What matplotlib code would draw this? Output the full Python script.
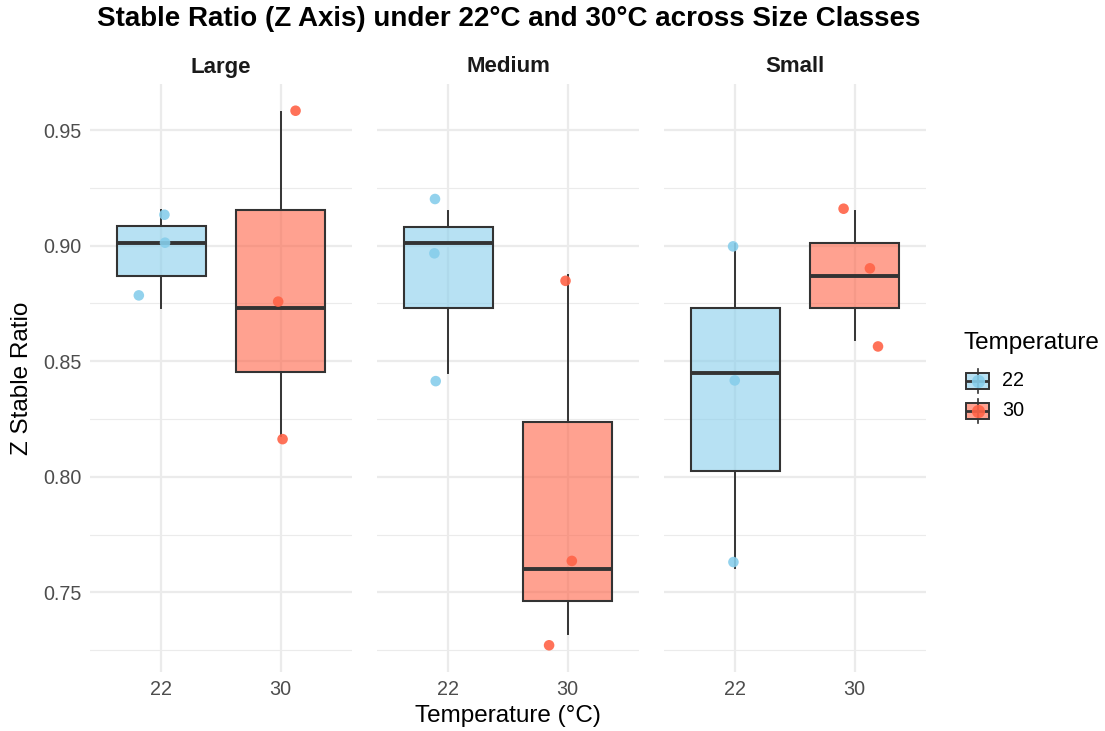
import glob
import matplotlib
matplotlib.use("Agg")
import matplotlib.pyplot as plt
import numpy as np
from matplotlib import font_manager
from matplotlib.patches import Rectangle

plt.rcParams["font.family"] = ["Liberation Sans", "DejaVu Sans"]


def find_font(name):
    hits = [p for p in font_manager.findSystemFonts() if p.endswith(name)]
    hits += glob.glob("/usr/share/fonts/**/" + name, recursive=True)
    return hits[0] if hits else None


_reg = find_font("LiberationSans-Regular.ttf")
_bold = find_font("LiberationSans-Bold.ttf")


def fp(size, bold=False):
    path = _bold if bold else _reg
    if path:
        return font_manager.FontProperties(fname=path, size=size)
    return font_manager.FontProperties(family="Liberation Sans", size=size,
                                       weight="bold" if bold else "normal")


# ---- data -------------------------------------------------------------
size_classes = ["Large", "Medium", "Small"]
temperatures = ["22", "30"]

# underlying measurements per size class / temperature (three replicates)
ratio_22 = {
    "Large": [0.8730, 0.9012, 0.9156],
    "Medium": [0.8449, 0.9012, 0.9152],
    "Small": [0.7605, 0.8449, 0.9009],
}
ratio_30 = {
    "Large": [0.8175, 0.8730, 0.9577],
    "Medium": [0.7319, 0.7602, 0.8872],
    "Small": [0.8593, 0.8871, 0.9149],
}

# jittered points as plotted (value, horizontal jitter in category units)
points_22 = {
    "Large": ([0.9134, 0.9013, 0.8785], [0.025, 0.030, -0.190]),
    "Medium": ([0.9202, 0.8967, 0.8414], [-0.113, -0.118, -0.107]),
    "Small": ([0.8997, 0.8417, 0.7631], [-0.020, -0.006, -0.017]),
}
points_30 = {
    "Large": ([0.9584, 0.8758, 0.8163], [0.126, -0.020, 0.017]),
    "Medium": ([0.8848, 0.7636, 0.7271], [-0.017, 0.036, -0.155]),
    "Small": ([0.9160, 0.8902, 0.8564], [-0.092, 0.129, 0.197]),
}

y_ticks = [0.75, 0.80, 0.85, 0.90, 0.95]
y_tick_labels = ["0.75", "0.80", "0.85", "0.90", "0.95"]

# ---- style ------------------------------------------------------------
fill_colors = {"22": "#87CEEB", "30": "#FF6347"}
box_alpha = 0.6
edge = "#333333"
grid_major = "#EBEBEB"
tick_color = "#4D4D4D"
tick_size = 14.2

W, H = 1105, 731
fig = plt.figure(figsize=(W / 100, H / 100), dpi=100)

panel_lefts = [90, 377, 664]
panel_w = 262
panel_top, panel_bottom = 84, 672

# shared y range with 5% padding around all plotted values
all_vals = []
for d in (ratio_22, ratio_30):
    for v in d.values():
        all_vals += v
for d in (points_22, points_30):
    for v, _ in d.values():
        all_vals += v
lo, hi = min(all_vals), max(all_vals)
pad = (hi - lo) * 0.05
ylim = (lo - pad, hi + pad)
minor_ticks = [t + 0.025 for t in [0.70] + y_ticks if ylim[0] <= t + 0.025 <= ylim[1]]

for i, sc in enumerate(size_classes):
    ax = fig.add_axes([panel_lefts[i] / W, (H - panel_bottom) / H,
                       panel_w / W, (panel_bottom - panel_top) / H])
    for s in ax.spines.values():
        s.set_visible(False)
    ax.set_axisbelow(True)

    for j, (temp, data, pts) in enumerate(
        [("22", ratio_22, points_22), ("30", ratio_30, points_30)]
    ):
        pos = j + 1
        bp = ax.boxplot(
            [data[sc]], positions=[pos], widths=0.75, patch_artist=True,
            whis=1.5, showfliers=False, manage_ticks=False,
            boxprops=dict(edgecolor=edge, linewidth=1.5),
            medianprops=dict(color=edge, linewidth=2.8, solid_capstyle="butt"),
            whiskerprops=dict(color=edge, linewidth=1.4),
            capprops=dict(linewidth=0),
        )
        for b in bp["boxes"]:
            b.set_facecolor(matplotlib.colors.to_rgba(fill_colors[temp], box_alpha))
            b.set_edgecolor(edge)
        vals, jit = pts[sc]
        ax.scatter(np.array(jit) + pos, vals, s=58, color=fill_colors[temp],
                   alpha=0.9, edgecolors="none", zorder=5)

    ax.set_yticks(y_ticks)
    ax.set_yticks(minor_ticks, minor=True)
    ax.set_xticks([1, 2])
    ax.set_xticklabels(temperatures, fontproperties=fp(tick_size))
    ax.set_xlim(0.4, 2.6)
    ax.set_ylim(*ylim)
    ax.grid(True, which="major", color=grid_major, linewidth=1.6)
    ax.grid(True, which="minor", axis="y", color=grid_major, linewidth=0.8)
    ax.tick_params(which="both", length=0, colors=tick_color, pad=6)
    if i == 0:
        ax.set_yticklabels(y_tick_labels, fontproperties=fp(tick_size))
    else:
        ax.set_yticklabels([])

    ax.text(0.5, 1.0 + 17 / (panel_bottom - panel_top), sc,
            transform=ax.transAxes, ha="center", va="center",
            fontproperties=fp(16, bold=True), color="#1A1A1A")

# titles
fig.text(509 / W, 1 - 19 / H,
         "Stable Ratio (Z Axis) under 22°C and 30°C across Size Classes",
         ha="center", va="center", fontproperties=fp(20, bold=True),
         color="black")
fig.text(508 / W, 1 - 716 / H, "Temperature (°C)", ha="center", va="center",
         fontproperties=fp(17.5), color="black")
fig.text(22 / W, 1 - 378 / H, "Z Stable Ratio", ha="center", va="center",
         rotation=90, fontproperties=fp(17.5), color="black")

# ---- legend: boxplot-style keys with a dot, laid out in pixel units ----
lx0, ly0, lx1, ly1 = 950, 320, 1105, 430
lax = fig.add_axes([lx0 / W, 1 - ly1 / H, (lx1 - lx0) / W, (ly1 - ly0) / H])
lax.set_xlim(lx0, lx1)
lax.set_ylim(ly1, ly0)
lax.axis("off")
lax.text(963, 343, "Temperature", ha="left", va="center",
         fontproperties=fp(17.5), color="black")
key_rows = [381, 411]
for temp, yc in zip(temperatures, key_rows):
    kx0, kx1 = 966, 989
    kc = (kx0 + kx1) / 2
    lax.plot([kc, kc], [yc - 12, yc + 12], color=edge, lw=1.2)
    lax.add_patch(Rectangle((kx0, yc - 8), kx1 - kx0, 16,
                            facecolor=matplotlib.colors.to_rgba(fill_colors[temp], box_alpha),
                            edgecolor=edge, lw=1.4))
    lax.plot([kx0, kx1], [yc, yc], color=edge, lw=2.0, solid_capstyle="butt")
    lax.plot([kc], [yc], marker="o", markersize=9.5, color=fill_colors[temp],
             markeredgewidth=0, alpha=0.9)
    lax.text(1002, yc, temp, ha="left", va="center",
             fontproperties=fp(tick_size), color="black")

fig.savefig("out.png", dpi=100)
